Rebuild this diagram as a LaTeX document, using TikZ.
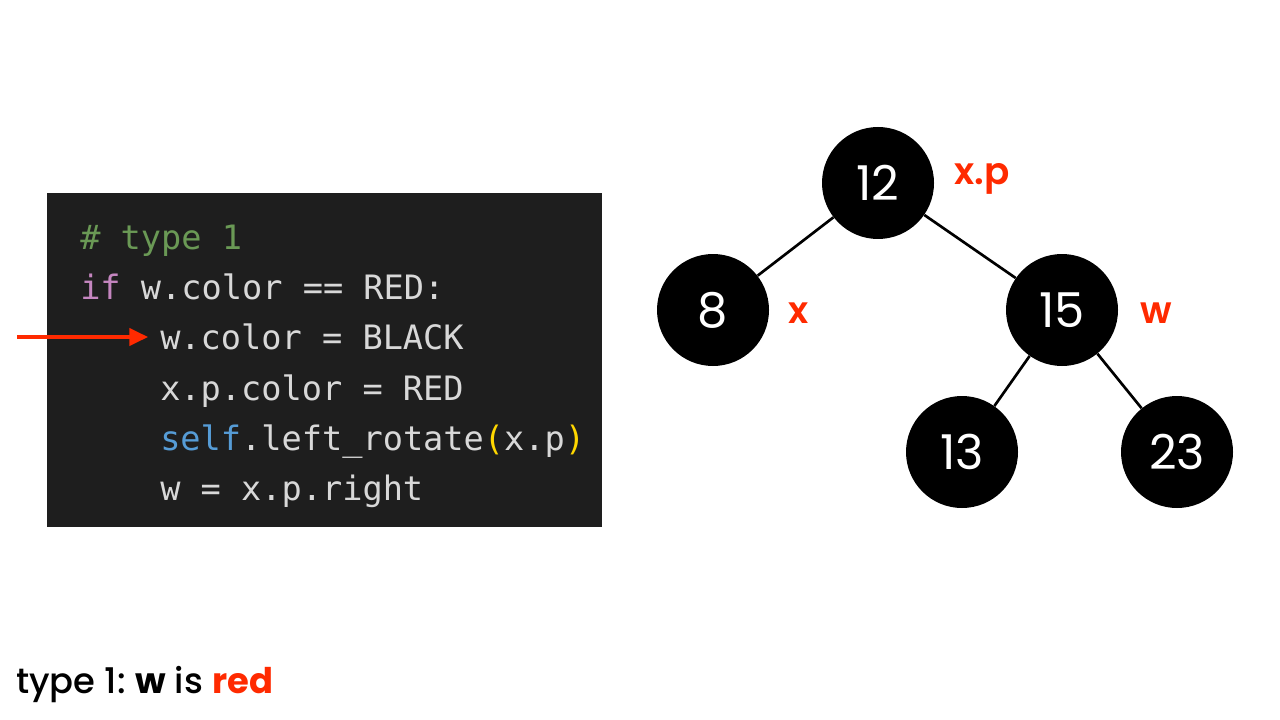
\documentclass[tikz,border=0pt]{standalone}
\usepackage{fontspec}
\setmainfont{Poppins}
\newfontfamily\codefont{DejaVu Sans Mono}
\newfontfamily\labfont{Poppins SemiBold}
\newfontfamily\medfont{Poppins Medium}
\newfontfamily\boldfnt{Poppins Bold}
\usetikzlibrary{arrows.meta}
\definecolor{codebg}{HTML}{1E1E1E}
\definecolor{codefg}{HTML}{D8D8D8}
\definecolor{cgreen}{HTML}{6A9955}
\definecolor{cpurple}{HTML}{C586C0}
\definecolor{cblue}{HTML}{569CD6}
\definecolor{cyellow}{HTML}{FFD700}
\definecolor{hred}{HTML}{FF2A00}
\tikzset{
  rbnode/.style={circle,fill=black,draw=none,minimum size=84pt,inner sep=0pt,
    text=white,font=\fontsize{36}{36}\selectfont},
  codeline/.style={anchor=base west,inner sep=0pt,text=codefg,
    font=\codefont\fontsize{25.2}{25.2}\selectfont},
  redlabel/.style={text=hred,inner sep=0pt,font=\labfont\fontsize{28}{28}\selectfont},
  treeedge/.style={line width=2pt,black},
  pointer/.style={line width=2.4pt,hred,-{Triangle[length=14pt,width=13pt]}}
}
\begin{document}
\begin{tikzpicture}[x=0.75pt,y=-0.75pt]
\useasboundingbox (0,0) rectangle (1280,720);
\fill[white] (0,0) rectangle (1280,720);
% code box
\node[fill=codebg,minimum width=416.25pt,minimum height=250.5pt,inner sep=0pt,anchor=north west] (box) at (47,193) {};
\node[codeline] (l1) at (80,249) {\textcolor{cgreen}{\# type 1}};
\node[codeline] (l2) at (80,299) {\textcolor{cpurple}{if} w.color == RED:};
\node[codeline] (l3) at (160,349) {w.color = BLACK};
\node[codeline] (l4) at (160,400) {x.p.color = RED};
\node[codeline] (l5) at (160,450) {\textcolor{cblue}{self}.left\_rotate\textcolor{cyellow}{(}x.p\textcolor{cyellow}{)}};
\node[codeline] (l6) at (160,500) {w = x.p.right};
% pointer arrow
\coordinate (as) at (17,337);
\coordinate (ae) at (148,337);
\draw[pointer] (as) -- (ae);
% tree
\node[rbnode] (n12) at (878,183) {12};
\node[rbnode] (n8) at (713,310) {8};
\node[rbnode] (n15) at (1062,310) {15};
\node[rbnode] (n13) at (962,452) {13};
\node[rbnode] (n23) at (1177,452) {23};
\draw[treeedge] (n12) -- (n8);
\draw[treeedge] (n12) -- (n15);
\draw[treeedge] (n15) -- (n13);
\draw[treeedge] (n15) -- (n23);
\node[redlabel] (lxp) at (982,179) {x.p};
\node[redlabel] (lx) at (799,313) {x};
\node[redlabel] (lw) at (1156,313) {w};
% caption
\node[anchor=base west,inner sep=0pt,font=\medfont\fontsize{26.5}{26.5}\selectfont] (cap) at (16,693)
  {type 1:~{\boldfnt w} is {\boldfnt\textcolor{hred}{red}}};
\end{tikzpicture}
\end{document}
